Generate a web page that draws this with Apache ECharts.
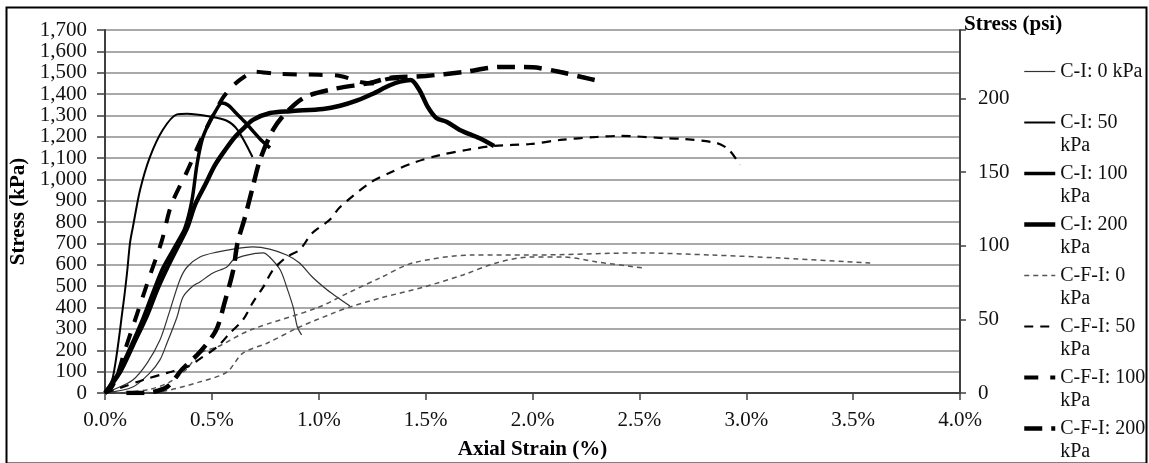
<!DOCTYPE html>
<html>
<head>
<meta charset="utf-8">
<script src="https://cdn.jsdelivr.net/npm/echarts@6/dist/echarts.min.js"></script>
<style>
html,body{margin:0;padding:0;background:#fff;}
#chart{width:1149px;height:463px;}
</style>
</head>
<body>
<div id="chart"></div>
<script>
// Axial strain (%) vs stress (kPa)
const seriesNames = ['C-I: 0 kPa','C-I: 50 kPa','C-I: 100 kPa','C-I: 200 kPa','C-F-I: 0 kPa','C-F-I: 50 kPa','C-F-I: 100 kPa','C-F-I: 200 kPa'];
const legendLabels = ['C-I: 0 kPa','C-I: 50\nkPa','C-I: 100\nkPa','C-I: 200\nkPa','C-F-I: 0\nkPa','C-F-I: 50\nkPa','C-F-I: 100\nkPa','C-F-I: 200\nkPa'];
const xTicks = [0,0.5,1.0,1.5,2.0,2.5,3.0,3.5,4.0];
const yTicksPsi = [0,50,100,150,200];

const ci0a = [[0,0],[0.037,14],[0.13,61],[0.197,140],[0.257,248],[0.30,375],[0.35,529],[0.384,590],[0.444,637],[0.524,660],[0.60,674],[0.69,684],[0.77,674],[0.85,646],[0.91,609],[0.97,543],[1.04,482],[1.085,450],[1.146,407]];
const ci0b = [[0,0],[0.13,28],[0.21,94],[0.257,155],[0.29,234],[0.337,356],[0.365,450],[0.41,500],[0.444,520],[0.505,562],[0.57,590],[0.60,623],[0.664,646],[0.74,656],[0.77,637],[0.82,576],[0.85,496],[0.88,403],[0.90,309],[0.92,272]];
const ci50 = [[0,0],[0.037,75],[0.084,403],[0.103,562],[0.117,703],[0.131,780],[0.164,951],[0.21,1105],[0.27,1232],[0.337,1305],[0.384,1308],[0.49,1295],[0.57,1275],[0.62,1232],[0.69,1105]];
const ci100 = [[0,0],[0.056,84],[0.117,211],[0.178,351],[0.225,473],[0.271,586],[0.337,703],[0.374,773],[0.407,904],[0.43,1068],[0.454,1185],[0.482,1255],[0.515,1316],[0.547,1358],[0.575,1349],[0.608,1316],[0.655,1269],[0.70,1218],[0.735,1180],[0.772,1148]];
const ci200 = [[0,0],[0.07,98],[0.131,225],[0.197,365],[0.243,482],[0.29,585],[0.337,679],[0.384,773],[0.421,881],[0.468,974],[0.515,1068],[0.562,1138],[0.608,1199],[0.655,1246],[0.692,1279],[0.772,1311],[0.866,1320],[1.02,1330],[1.10,1345],[1.18,1370],[1.25,1400],[1.33,1440],[1.38,1458],[1.43,1466],[1.47,1420],[1.51,1340],[1.55,1288],[1.60,1269],[1.66,1232],[1.75,1194],[1.82,1157]];
const cfi0a = [[0.05,0],[0.2,15],[0.3,50],[0.38,110],[0.444,187],[0.524,215],[0.68,295],[0.99,398],[1.146,473],[1.287,539],[1.44,609],[1.72,646],[1.99,646],[2.5,656],[2.84,646],[3.16,632],[3.58,609]];
const cfi0b = [[0.1,0],[0.25,5],[0.444,52],[0.57,98],[0.645,187],[0.76,234],[0.91,309],[1.07,375],[1.146,403],[1.29,445],[1.49,496],[1.675,553],[1.83,609],[1.99,637],[2.14,637],[2.3,614],[2.52,585]];
const cfi50 = [[0,0],[0.07,23],[0.178,61],[0.29,94],[0.384,122],[0.444,160],[0.524,215],[0.585,281],[0.645,342],[0.69,421],[0.74,496],[0.786,576],[0.85,637],[0.91,670],[0.97,749],[1.05,810],[1.10,871],[1.24,984],[1.33,1030],[1.44,1077],[1.57,1115],[1.69,1138],[1.82,1157],[1.99,1166],[2.13,1185],[2.30,1199],[2.41,1204],[2.61,1194],[2.70,1190],[2.86,1171],[2.92,1138],[2.97,1068]];
const cfi100 = [[0,0],[0.03,25],[0.06,90],[0.09,190],[0.15,370],[0.21,550],[0.265,710],[0.31,880],[0.385,1040],[0.46,1210],[0.55,1380],[0.6,1440],[0.65,1480],[0.7,1505],[0.8,1495],[1.0,1490],[1.1,1485],[1.2,1455],[1.25,1450],[1.33,1472],[1.43,1475]];
const cfi200 = [[0.1,0],[0.18,0],[0.29,28],[0.36,110],[0.444,192],[0.52,295],[0.56,426],[0.60,576],[0.62,703],[0.655,824],[0.69,960],[0.725,1091],[0.786,1232],[0.85,1316],[0.936,1386],[1.07,1424],[1.24,1452],[1.33,1475],[1.5,1485],[1.675,1503],[1.85,1527],[2.0,1525],[2.13,1503],[2.23,1480],[2.33,1457]];

const KPA_PER_PSI = 6.894757;
const FONT = 'Liberation Serif';
const FS = 21;

function mk(name, data, color, width, dash) {
  return {
    name: name, type: 'line', data: data, yAxisIndex: 0,
    showSymbol: false, symbol: 'none', smooth: 0.3,
    lineStyle: { color: color, width: width, type: dash || 'solid', cap: 'butt' },
    itemStyle: { color: color },
    emphasis: { disabled: true }
  };
}

const chart = echarts.init(document.getElementById('chart'), null, { renderer: 'canvas' });
const legendMap = {};
seriesNames.forEach((n, i) => legendMap[n] = legendLabels[i]);

chart.setOption({
  animation: false,
  backgroundColor: '#fff',
  grid: { left: 105, right: 189, top: 30, bottom: 70, containLabel: false, outerBoundsMode: 'none' },
  xAxis: {
    type: 'value', min: 0, max: 4, interval: 0.5,
    name: 'Axial Strain (%)', nameLocation: 'middle', nameGap: 46,
    nameTextStyle: { fontFamily: FONT, fontWeight: 'bold', fontSize: FS, color: '#000' },
    axisLine: { show: true, onZero: false, lineStyle: { color: '#404040', width: 2 } },
    axisTick: { show: true, inside: false, length: 7, lineStyle: { color: '#404040', width: 1.5 } },
    axisLabel: { margin: 17, fontFamily: FONT, fontSize: FS, color: '#111',
      formatter: v => v.toFixed(1) + '%', customValues: xTicks },
    splitLine: { show: false }
  },
  yAxis: [{
    type: 'value', min: 0, max: 1700, interval: 100, position: 'left',
    name: 'Stress (kPa)', nameLocation: 'middle', nameGap: 71, nameRotate: 90,
    nameTextStyle: { fontFamily: FONT, fontWeight: 'bold', fontSize: FS, color: '#000' },
    axisLine: { show: true, lineStyle: { color: '#404040', width: 2 } },
    axisTick: { show: true, inside: false, length: 8, lineStyle: { color: '#404040', width: 1.5 } },
    axisLabel: { margin: 18, fontFamily: FONT, fontSize: FS, color: '#111',
      formatter: v => v.toLocaleString('en-US') },
    splitLine: { show: true, lineStyle: { color: '#8c8c8c', width: 1.5 } }
  }, {
    type: 'value', min: 0, max: 1700 / KPA_PER_PSI, interval: 50, position: 'right',
    name: 'Stress (psi)', nameLocation: 'end', nameGap: 5,
    nameTextStyle: { fontFamily: FONT, fontWeight: 'bold', fontSize: FS, color: '#000', align: 'left', verticalAlign: 'middle', padding: [0,0,0,4] },
    axisLine: { show: true, lineStyle: { color: '#404040', width: 2 } },
    axisTick: { show: true, inside: false, length: 6, lineStyle: { color: '#404040', width: 1.5 } },
    axisLabel: { margin: 18, fontFamily: FONT, fontSize: FS, color: '#111', customValues: yTicksPsi,
      formatter: v => String(Math.round(v)) },
    splitLine: { show: false }
  }],
  legend: {
    orient: 'vertical', left: 1022, top: 37, padding: 0,
    itemGap: -18, itemWidth: 31, itemHeight: 12,
    selectedMode: false,
    data: seriesNames,
    itemStyle: { opacity: 0, borderWidth: 0 },
    lineStyle: { width: 'inherit', type: 'inherit', color: 'inherit', cap: 'butt' },
    formatter: n => '\u00a0\n' + legendMap[n] + (legendMap[n].indexOf('\n') < 0 ? '\n\u00a0' : ''),
    textStyle: { fontFamily: FONT, fontSize: 20, lineHeight: 23, color: '#111' }
  },
  graphic: [{
    type: 'rect', left: 4, top: 5, silent: true,
    shape: { width: 1140, height: 456 },
    style: { fill: 'none', stroke: '#000', lineWidth: 2 }
  }],
  series: [
    mk('C-I: 0 kPa', ci0a, '#333', 1.2),
    mk('C-I: 0 kPa', ci0b, '#333', 1.2),
    mk('C-I: 50 kPa', ci50, '#000', 2),
    mk('C-I: 100 kPa', ci100, '#000', 3.5),
    mk('C-I: 200 kPa', ci200, '#000', 4.5),
    mk('C-F-I: 0 kPa', cfi0a, '#555', 1.5, [5, 4]),
    mk('C-F-I: 0 kPa', cfi0b, '#555', 1.5, [5, 4]),
    mk('C-F-I: 50 kPa', cfi50, '#000', 2.2, [9, 7]),
    mk('C-F-I: 100 kPa', cfi100, '#000', 4, [14, 12]),
    mk('C-F-I: 200 kPa', cfi200, '#000', 4.5, [18, 9])
  ]
});
</script>
</body>
</html>
